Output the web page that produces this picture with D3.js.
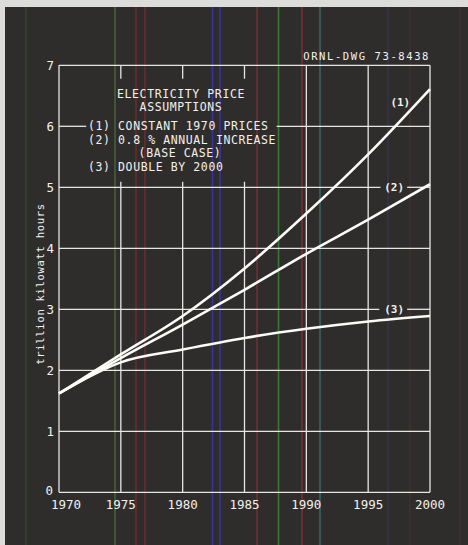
<!DOCTYPE html>
<html>
<head>
<meta charset="utf-8">
<script src="https://cdn.jsdelivr.net/npm/d3@7"></script>
<style>
  body { margin: 0; background: #dcdcda; }
  svg text { font-family: "DejaVu Sans Mono", monospace; fill: #f2f2ee; }
</style>
</head>
<body>
<svg id="chart" width="468" height="545"></svg>
<script>
// electricity demand projections, trillion kWh
var years = [1970, 1975, 1980, 1985, 1990, 1995, 2000];
var constantPrices = [1.62, 2.26, 2.89, 3.67, 4.57, 5.54, 6.61];
var annualIncrease = [1.62, 2.20, 2.75, 3.32, 3.91, 4.47, 5.05];
var doubleBy2000 = [1.62, 2.13, 2.34, 2.53, 2.68, 2.80, 2.89];
var seriesLabels = ["(1)", "(2)", "(3)"];

var yTicks = [0, 1, 2, 3, 4, 5, 6, 7];
var xTicks = [1970, 1975, 1980, 1985, 1990, 1995, 2000];

var legendLines = [
  "ELECTRICITY  PRICE",
  "ASSUMPTIONS",
  "(1) CONSTANT 1970 PRICES",
  "(2) 0.8 % ANNUAL INCREASE",
  "(BASE CASE)",
  "(3) DOUBLE BY 2000"
];

var svg = d3.select("#chart");

// photo background, light edge at top/left
svg.append("rect").attr("x", 5).attr("y", 7).attr("width", 463).attr("height", 538)
  .attr("fill", "#2e2d2b");

// scanner streaks
var streaks = [
  {x: 26, c: "#3a5a34", o: 0.5}, {x: 115, c: "#4c7a3a", o: 0.7},
  {x: 136, c: "#7a2c30", o: 0.8}, {x: 145, c: "#7a2c30", o: 0.8},
  {x: 212.5, c: "#3a34b0", o: 0.9}, {x: 220, c: "#3a34b0", o: 0.9},
  {x: 257, c: "#823036", o: 0.8}, {x: 278.5, c: "#3e8a3c", o: 0.8},
  {x: 302, c: "#8a2e34", o: 0.85}, {x: 320, c: "#3e6e74", o: 0.8},
  {x: 388, c: "#3a3a70", o: 0.5}, {x: 410, c: "#5a3034", o: 0.5},
  {x: 460, c: "#5a3034", o: 0.5}
];
svg.selectAll(".streak").data(streaks).enter().append("line")
  .attr("x1", function(d) { return d.x; }).attr("x2", function(d) { return d.x; })
  .attr("y1", 7).attr("y2", 545)
  .attr("stroke", function(d) { return d.c; })
  .attr("stroke-opacity", function(d) { return d.o; })
  .attr("stroke-width", 1.6);

var x = d3.scaleLinear().domain([1970, 2000]).range([59, 430]);
var y = d3.scaleLinear().domain([0, 7]).range([492.3, 65.3]);

var grid = svg.append("g").attr("stroke", "#e6e6e2").attr("stroke-width", 1.3);

// vertical grid: legend cuts through 1975-1985
xTicks.forEach(function(t) {
  if (t > 1970 && t < 1990) {
    grid.append("line").attr("x1", x(t)).attr("x2", x(t)).attr("y1", y(7)).attr("y2", y(6.78));
    grid.append("line").attr("x1", x(t)).attr("x2", x(t)).attr("y1", y(5.09)).attr("y2", y(0));
  } else {
    grid.append("line").attr("x1", x(t)).attr("x2", x(t)).attr("y1", y(7)).attr("y2", y(0));
  }
});

// horizontal grid with gaps for legend and curve labels
var gaps = {6: [1972.2, 1987.6], 5: [1996.0, 1998.15], 3: [1995.9, 1998.15]};
yTicks.forEach(function(t) {
  var segs = gaps[t] ? [[1970, gaps[t][0]], [gaps[t][1], 2000]] : [[1970, 2000]];
  segs.forEach(function(s) {
    grid.append("line").attr("x1", x(s[0])).attr("x2", x(s[1]))
      .attr("y1", y(t)).attr("y2", y(t));
  });
});

// tick labels
svg.selectAll(".ylab").data(yTicks).enter().append("text")
  .attr("x", function(d) { return d === 0 ? 53 : 54; })
  .attr("y", function(d) { return y(d) - (d === 0 ? 2 : 0); })
  .attr("dy", "0.36em").attr("text-anchor", "end")
  .attr("font-size", 12.5).text(function(d) { return d; });

svg.selectAll(".xlab").data(xTicks).enter().append("text")
  .attr("x", function(d) { return x(d) + (d === 1970 ? 7 : 0); })
  .attr("y", 509).attr("text-anchor", "middle")
  .attr("font-size", 12.5).text(function(d) { return d; });

// axis title
svg.append("text")
  .attr("transform", "translate(44,284) rotate(-90)")
  .attr("text-anchor", "middle").attr("font-size", 10.5)
  .attr("letter-spacing", 0.7)
  .text("trillion kilowatt hours");

// drawing number
svg.append("text").attr("x", 430).attr("y", 60).attr("text-anchor", "end")
  .attr("font-size", 10.5).attr("letter-spacing", 1.6)
  .text("ORNL-DWG 73-8438");

// legend block
var legendX = [181, 181, 88, 88, 180, 88];
var legendY = [97.5, 111, 130, 144, 157, 171];
svg.selectAll(".leg").data(legendLines).enter().append("text")
  .attr("x", function(d, i) { return legendX[i]; })
  .attr("y", function(d, i) { return legendY[i]; })
  .attr("text-anchor", function(d, i) { return (i === 0 || i === 1 || i === 4) ? "middle" : "start"; })
  .attr("font-size", 11.5).attr("letter-spacing", 0.6)
  .text(function(d) { return d; });

// curves
var series = [constantPrices, annualIncrease, doubleBy2000];
var line = d3.line()
  .x(function(d, i) { return x(years[i]); })
  .y(function(d) { return y(d); })
  .curve(d3.curveMonotoneX);

svg.selectAll(".curve").data(series).enter().append("path")
  .attr("d", line)
  .attr("fill", "none").attr("stroke", "#fbfbf8")
  .attr("stroke-width", 2.6);

// curve labels
var labelPos = [{yr: 1997.6, v: 6.4}, {yr: 1997.1, v: 5}, {yr: 1997.1, v: 3}];
svg.selectAll(".clab").data(seriesLabels).enter().append("text")
  .attr("x", function(d, i) { return x(labelPos[i].yr); })
  .attr("y", function(d, i) { return y(labelPos[i].v); })
  .attr("dy", "0.36em").attr("text-anchor", "middle")
  .attr("font-size", 11).attr("font-weight", "bold")
  .text(function(d) { return d; });
</script>
</body>
</html>
